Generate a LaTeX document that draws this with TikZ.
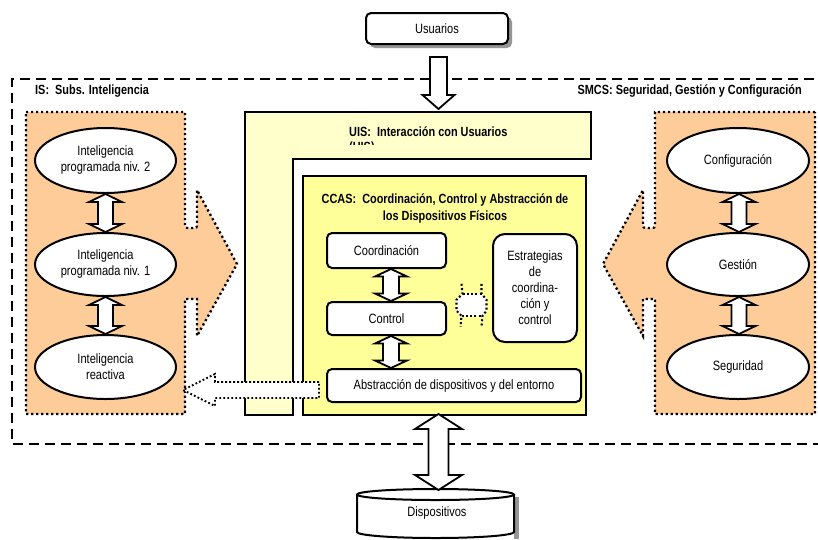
\documentclass[tikz,border=0pt]{standalone}
\usepackage{fontspec}
\setmainfont{Liberation Sans}[FakeStretch=0.82]
\usetikzlibrary{calc,shapes.geometric,shadows}
\definecolor{orangefill}{RGB}{253,204,153}
\definecolor{uisfill}{RGB}{255,255,204}
\definecolor{ccasfill}{RGB}{255,255,153}
\definecolor{shadowgray}{RGB}{150,150,150}
\tikzset{
  txt/.style={font=\fontsize{13.5}{16}\selectfont, align=center, inner sep=0pt},
  hd/.style={font=\fontsize{13.3}{17}\selectfont\bfseries, inner sep=0pt},
  ellnode/.style={ellipse, draw, line width=2pt, fill=white, minimum width=141pt, minimum height=64pt, txt},
  rbox/.style={draw, line width=2pt, fill=white, rounded corners=5pt, txt},
  blockarrow/.style={draw, line width=1.8pt, fill=white, line join=miter},
  dotline/.style={line width=2.3pt, dash pattern=on 2.2pt off 2.8pt, line cap=butt},
  dashframe/.style={line width=2.6pt, dash pattern=on 10pt off 6pt},
  panel/.style={fill=orangefill, draw, dotline},
}
% #1 top point, #2 bottom point, #3 head half width, #4 shaft half width, #5 head length
\newcommand\dblarrow[5]{%
  \path[blockarrow] let \p1=(#1), \p2=(#2) in
    (\x1,\y1) -- (\x1+#3pt,\y1-#5pt) -- (\x1+#4pt,\y1-#5pt) -- (\x1+#4pt,\y2+#5pt)
    -- (\x1+#3pt,\y2+#5pt) -- (\x1,\y2) -- (\x1-#3pt,\y2+#5pt) -- (\x1-#4pt,\y2+#5pt)
    -- (\x1-#4pt,\y1-#5pt) -- (\x1-#3pt,\y1-#5pt) -- cycle;}
\begin{document}
\begin{tikzpicture}[x=1pt,y=-1pt]
\useasboundingbox (0,0) rectangle (818,539);
\clip (0,0) rectangle (818,539);
\fill[white] (0,0) rectangle (818,539);

% outer dashed frame
\draw[dashframe] (830,79) -- (12,79) -- (12,444) -- (830,444);

% side panels
\path[panel] (26,112) -- (185,112) -- (185,223) .. controls (185,228) .. (190,228) -- (192,228)
  .. controls (197,228) .. (197,223) -- (197,190) -- (237,264) -- (197,336) -- (197,299)
  -- (185,299) -- (185,414) -- (26,414) -- cycle;
\path[panel] (815,112) -- (655,112) -- (655,223) .. controls (655,228) .. (650,228) -- (648,228)
  .. controls (643,228) .. (643,223) -- (643,190) -- (603,264) -- (643,336) -- (643,299)
  -- (655,299) -- (655,414) -- (815,414) -- cycle;

\node[hd, anchor=west] (islbl) at (35,91) {IS:\ \ Subs. Inteligencia};
\node[hd, anchor=east] (smcslbl) at (802,91) {SMCS: Seguridad, Gestión y Configuración};

% ellipses
\node[ellnode, minimum height=65pt] (e1) at (105.5,160.5) {Inteligencia\\programada niv. 2};
\node[ellnode, minimum height=63pt] (e2) at (105.5,264.5) {Inteligencia\\programada niv. 1};
\node[ellnode] (e3) at (105.5,367) {Inteligencia\\reactiva};
\node[ellnode, minimum width=142pt, minimum height=65pt] (r1) at (738,160.5) {Configuración};
\node[ellnode, minimum width=142pt, minimum height=63pt] (r2) at (738,264.5) {Gestión};
\node[ellnode, minimum width=142pt] (r3) at (738,367) {Seguridad};

\dblarrow{e1.south}{e2.north}{16.5}{7.5}{8}
\dblarrow{e2.south}{e3.north}{16.5}{7.5}{8}
\dblarrow{$(r1.south)+(1,0)$}{r2.north}{16.5}{7.5}{8}
\dblarrow{$(r2.south)+(1,0)$}{r3.north}{16.5}{7.5}{8}

% UIS
\draw[line width=2pt, fill=uisfill] (245,112) -- (591,112) -- (591,159) -- (293,159)
  -- (293,415) -- (245,415) -- cycle;
\coordinate (uistop) at (438,112);
\node[hd, anchor=base west] (uislbl) at (349,136) {UIS:\ \ Interacción con Usuarios};
\begin{scope}
  \clip (300,120) rectangle (590,144.5);
  \node[hd, anchor=base west] (uislbl2) at (349,151.5) {(UIS)};
\end{scope}

% CCAS
\node[draw, line width=2pt, fill=ccasfill, minimum width=283pt, minimum height=239pt, inner sep=0pt] (ccas) at (444.5,295.5) {};
\node[hd, align=center] (ccaslbl) at (445,208.5) {CCAS:\ \ Coordinación, Control y Abstracción de\\los Dispositivos Físicos};

\node[rbox, minimum width=119pt, minimum height=35pt] (coord) at (386.5,250.5) {Coordinación};
\node[rbox, minimum width=119pt, minimum height=33pt] (ctrl) at (386.5,318.5) {Control};
\node[rbox, minimum width=254pt, minimum height=33pt] (abs) at (454,385.5) {Abstracción de dispositivos y del entorno};
\node[rbox, rounded corners=12pt, minimum width=84pt, minimum height=108pt] (estr) at (535,288) {Estrategias\\de\\coordina-\\ción y\\control};

\dblarrow{$(coord.south)+(4.5,0)$}{ctrl.north}{16}{8}{7.5}
\dblarrow{$(ctrl.south)+(4.5,0)$}{abs.north}{16}{8}{7.5}

% small dotted double arrow
\coordinate (m) at ($(ctrl.east)!0.5!(estr.west)+(2,2)$);
\begin{scope}[shift={(m)}]
  \fill[white] (-9,-11.5) -- (10,-11.5) -- (15,-5.5) -- (15,5.5) -- (11,10.5) -- (-10,10.5) -- (-15,5.5) -- (-15,-5.5) -- cycle;
  \draw[dotline, line width=2.1pt, dash pattern=on 2pt off 2.3pt] (-10,-21.5) -- (-9,-11.5) -- (-15,-5.5) -- (-15,5.5) -- (-10,10.5) -- (-11,21.5);
  \draw[dotline, line width=2.1pt, dash pattern=on 2pt off 2.3pt] (10,-21.5) -- (10,-11.5) -- (15,-5.5) -- (15,5.5) -- (11,10.5) -- (10,21.5);
  \draw[dotline, line width=2.1pt, dash pattern=on 2pt off 2.3pt] (-9,-11.5) -- (10,-11.5);
  \draw[dotline, line width=2.1pt, dash pattern=on 2pt off 2.3pt] (-10,10.5) -- (11,10.5);
\end{scope}

% dotted arrow to IS panel
\coordinate (lpr) at (185,390);
\path[draw, fill=white, dotline, line width=1.9pt, dash pattern=on 1.8pt off 2.2pt]
  let \p1=($(abs.west)+(-7,4.5)$), \p2=($(lpr)+(-2,0)$) in
  (\x1,\y1+8pt) -- (\x2+32pt,\y1+8pt) -- (\x2+32pt,\y1+16pt) -- (\x2,\y1)
  -- (\x2+32pt,\y1-16pt) -- (\x2+32pt,\y1-8pt) -- (\x1,\y1-8pt) -- cycle;

% Usuarios
\node[rbox, minimum width=142pt, minimum height=31pt,
  drop shadow={shadow xshift=4pt, shadow yshift=-4pt, fill=shadowgray, opacity=1}] (usr) at (437,28.5) {Usuarios};
\path[blockarrow] let \p1=($(usr.south)+(1.5,12)$), \p2=($(uistop)+(0,-3)$) in
  (\x1-8.5pt,\y1) -- (\x1+8.5pt,\y1) -- (\x1+8.5pt,\y2+14pt) -- (\x1+16pt,\y2+14pt)
  -- (\x1,\y2) -- (\x1-16pt,\y2+14pt) -- (\x1-8.5pt,\y2+14pt) -- cycle;

% Dispositivos cylinder
\fill[shadowgray] (514,497) rectangle (519,539);
\draw[line width=2pt, fill=white] (357,494.5) -- (357,532)
  arc[start angle=180, end angle=360, x radius=78.5pt, y radius=6pt] -- (514,494.5)
  arc[start angle=0, end angle=180, x radius=78.5pt, y radius=5.5pt] -- cycle;
\draw[line width=2pt] (357,494.5) arc[start angle=180, end angle=360, x radius=78.5pt, y radius=5.5pt];
\coordinate (disptop) at (435.5,489);
\node[txt] (disp) at (437,513) {Dispositivos};

\dblarrow{$(ccas.south)+(-6,-2)$}{$(disptop)+(0,1)$}{23.5}{10}{15}
\end{tikzpicture}
\end{document}
